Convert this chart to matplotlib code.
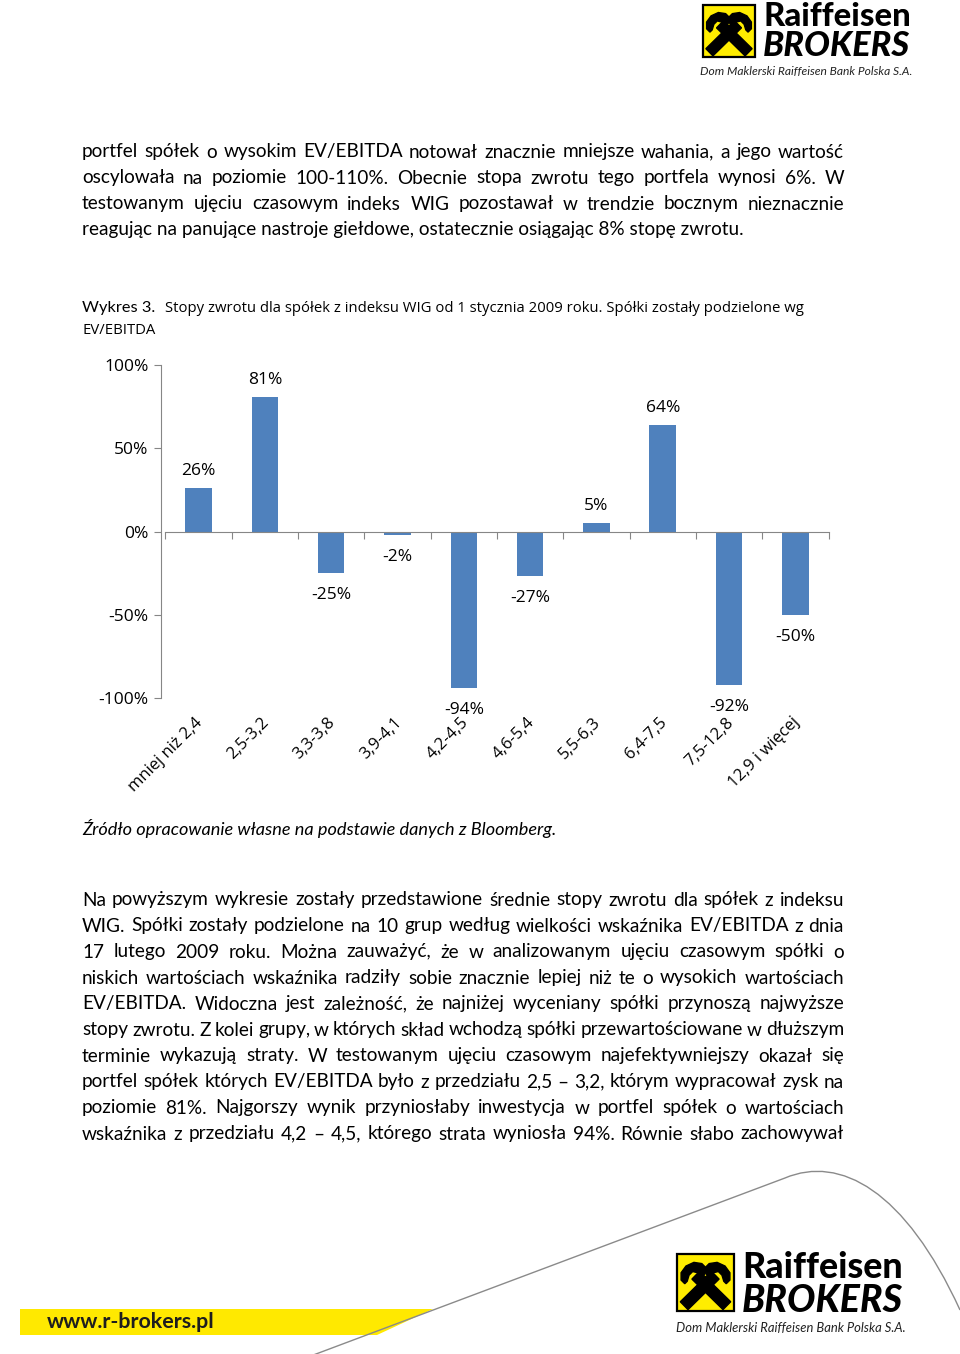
import matplotlib
matplotlib.use('Agg')
import matplotlib.pyplot as plt
import numpy as np
from matplotlib.patches import Polygon, Rectangle, PathPatch
from matplotlib.path import Path

# ---------------- data ----------------
categories = ["mniej niż 2,4", "2,5-3,2", "3,3-3,8", "3,9-4,1", "4,2-4,5",
              "4,6-5,4", "5,5-6,3", "6,4-7,5", "7,5-12,8", "12,9 i więcej"]
returns = [26, 81, -25, -2, -94, -27, 5, 64, -92, -50]
y_ticks = [100, 50, 0, -50, -100]
y_tick_labels = ["100%", "50%", "0%", "-50%", "-100%"]

para1 = [
    "portfel spółek o wysokim EV/EBITDA notował znacznie mniejsze wahania, a jego wartość",
    "oscylowała na poziomie 100-110%. Obecnie stopa zwrotu tego portfela wynosi 6%. W",
    "testowanym ujęciu czasowym indeks WIG pozostawał w trendzie bocznym nieznacznie",
    "reagując na panujące nastroje giełdowe, ostatecznie osiągając 8% stopę zwrotu.",
]
para2 = [
    "Na powyższym wykresie zostały przedstawione średnie stopy zwrotu dla spółek z indeksu",
    "WIG. Spółki zostały podzielone na 10 grup według wielkości wskaźnika EV/EBITDA z dnia",
    "17 lutego 2009 roku. Można zauważyć, że w analizowanym ujęciu czasowym spółki o",
    "niskich wartościach wskaźnika radziły sobie znacznie lepiej niż te o wysokich wartościach",
    "EV/EBITDA. Widoczna jest zależność, że najniżej wyceniany spółki przynoszą najwyższe",
    "stopy zwrotu. Z kolei grupy, w których skład wchodzą spółki przewartościowane w dłuższym",
    "terminie wykazują straty.  W testowanym ujęciu czasowym najefektywniejszy okazał się",
    "portfel spółek których EV/EBITDA było z przedziału 2,5 – 3,2, którym wypracował zysk na",
    "poziomie 81%. Najgorszy wynik przyniosłaby inwestycja w portfel spółek o wartościach",
    "wskaźnika z przedziału 4,2 – 4,5, którego strata wyniosła 94%. Równie słabo zachowywał",
]
caption_label = "Wykres 3."
caption_1 = "Stopy zwrotu dla spółek z indeksu WIG od 1 stycznia 2009 roku. Spółki zostały podzielone wg"
caption_2 = "EV/EBITDA"
source = "Źródło opracowanie własne na podstawie danych z Bloomberg."

# ---------------- figure ----------------
W, H = 960, 1354
fig = plt.figure(figsize=(9.6, 13.54), dpi=100, facecolor='white')
renderer = fig.canvas.get_renderer()

BODY = 'Lato'
CHART = 'Open Sans'
LOGO = 'Lato'


def fx(x):
    return x / W


def fy(y):
    return 1 - y / H


def width_of(t):
    return t.get_window_extent(renderer).width


def fit_text(s, x0, x1, y, family, weight='normal', style='normal',
             color='black', size0=12.0):
    t = fig.text(fx(x0), fy(y), s, fontsize=size0, family=family,
                 weight=weight, style=style, color=color, va='center', ha='left')
    w = width_of(t)
    t.set_fontsize(size0 * (x1 - x0) / w)
    return t


def justified(s, y, size, x0=82, x1=844, family=BODY, color='black'):
    words = s.split()
    objs, ws = [], []
    for w in words:
        t = fig.text(0, fy(y), w, fontsize=size, family=family, color=color,
                     va='center', ha='left')
        objs.append(t)
        ws.append(width_of(t))
    gap = (x1 - x0 - sum(ws)) / (len(words) - 1)
    x = x0
    for t, w in zip(objs, ws):
        t.set_x(fx(x))
        x += w + gap


# body text paragraph 1
last = fit_text(para1[-1], 82, 745, 230, BODY)
body_size = last.get_fontsize()
for i, line in enumerate(para1[:-1]):
    justified(line, 152 + 26 * i, body_size)

# paragraph 2
for i, line in enumerate(para2):
    justified(line, 900 + 26 * i, body_size)

# caption
fit_text(caption_label, 82, 155, 308, BODY)
cap = fit_text(caption_1, 165, 798, 308, CHART)
fig.text(fx(82), fy(331), caption_2, fontsize=cap.get_fontsize(), family=CHART,
         va='center', ha='left')

# source
fit_text(source, 82, 555, 829, BODY, style='italic')

# ---------------- chart ----------------
AX_L, AX_R, AX_T, AX_B = 165.4, 828.5, 365, 698
ax = fig.add_axes([fx(AX_L), fy(AX_B), (AX_R - AX_L) / W, (AX_B - AX_T) / H])
xpos = np.arange(len(categories))
ax.bar(xpos, returns, width=0.4, color='#4F81BD', zorder=2)
ax.set_xlim(-0.5, len(categories) - 0.5)
ax.set_ylim(-100, 100)
ax.patch.set_visible(False)
for s in ['top', 'right']:
    ax.spines[s].set_visible(False)
axis_col = '#868686'
ax.spines['left'].set_color(axis_col)
ax.spines['left'].set_position(('outward', 3))
ax.spines['bottom'].set_color(axis_col)
ax.spines['bottom'].set_position(('data', 0))
ax.set_yticks(y_ticks)
ax.set_yticklabels(y_tick_labels, fontsize=12.5, family=CHART)
ax.tick_params(axis='y', length=5, color=axis_col, pad=4)
ax.set_xticks(np.arange(-0.5, len(categories), 1.0))
ax.set_xticklabels([])
ax.tick_params(axis='x', direction='out', length=5, color=axis_col)

for i, (c, v) in enumerate(zip(categories, returns)):
    off = 17 if v >= 0 else -22
    ax.annotate(f"{v}%", xy=(i, v), xytext=(0, off), textcoords='offset pixels',
                ha='center', va='center', fontsize=12.5, family=CHART)
    ax.annotate(c, xy=(i, 0), xycoords=('data', 'axes fraction'),
                xytext=(2, -22), textcoords='offset pixels', rotation=45,
                rotation_mode='anchor', ha='right', va='center',
                fontsize=12, family=CHART)

# ---------------- logos ----------------
YELLOW = '#FFED00'


def bar_poly(p, q, t):
    p, q = np.array(p, float), np.array(q, float)
    d = q - p
    n = np.array([-d[1], d[0]]) / np.hypot(*d) * t / 2
    return [p + n, q + n, q - n, p - n]


def draw_symbol(x0, y0, size):
    a = fig.add_axes([fx(x0), fy(y0 + size), size / W, size / H])
    a.set_xlim(0, 1)
    a.set_ylim(1, 0)
    a.axis('off')
    a.add_patch(Rectangle((0.03, 0.03), 0.94, 0.94, facecolor=YELLOW,
                          edgecolor='black', lw=1.6))
    a.add_patch(Polygon(bar_poly((0.15, 0.88), (0.66, 0.38), 0.18), color='black'))
    a.add_patch(Polygon(bar_poly((0.85, 0.88), (0.34, 0.38), 0.18), color='black'))
    head = [(0.16, 0.52), (0.10, 0.46), (0.10, 0.34), (0.18, 0.23), (0.31, 0.17),
            (0.44, 0.19), (0.52, 0.27), (0.49, 0.36), (0.42, 0.42), (0.37, 0.34),
            (0.29, 0.32), (0.23, 0.38), (0.20, 0.48)]
    a.add_patch(Polygon(head, color='black'))
    a.add_patch(Polygon([(1 - x, y) for x, y in head], color='black'))


# top logo
draw_symbol(701, 3, 56)
fit_text("Raiffeisen", 764, 912, 17, LOGO, weight='black')
fit_text("BROKERS", 763, 910, 46, LOGO, weight='black', style='italic')
fit_text("Dom Maklerski Raiffeisen Bank Polska S.A.", 700, 912, 72, LOGO,
         style='italic', color='#222222')

# bottom logo
draw_symbol(675, 1252, 61)
fit_text("Raiffeisen", 742, 903, 1267, LOGO, weight='black')
fit_text("BROKERS", 742, 903, 1301, LOGO, weight='black', style='italic')
fit_text("Dom Maklerski Raiffeisen Bank Polska S.A.", 676, 905, 1328, LOGO,
         style='italic', color='#222222')

# footer band & decorative curve
bg = fig.add_axes([0, 0, 1, 1], zorder=-1)
bg.set_xlim(0, W)
bg.set_ylim(H, 0)
bg.axis('off')
bg.add_patch(Polygon([(20, 1309), (433, 1309), (377, 1335), (20, 1335)],
                     facecolor='#FFE900', edgecolor='none'))
verts = [(300, 1360), (785, 1178), (840, 1155), (905, 1190), (960, 1310)]
codes = [Path.MOVETO, Path.LINETO, Path.CURVE4, Path.CURVE4, Path.CURVE4]
bg.add_patch(PathPatch(Path(verts, codes), facecolor='none', edgecolor='#8a8a8a', lw=1.0))
fit_text("www.r-brokers.pl", 47, 215, 1322, LOGO, weight='bold', color='#1e1e1e')

fig.savefig('out.png', dpi=100, facecolor='white')
